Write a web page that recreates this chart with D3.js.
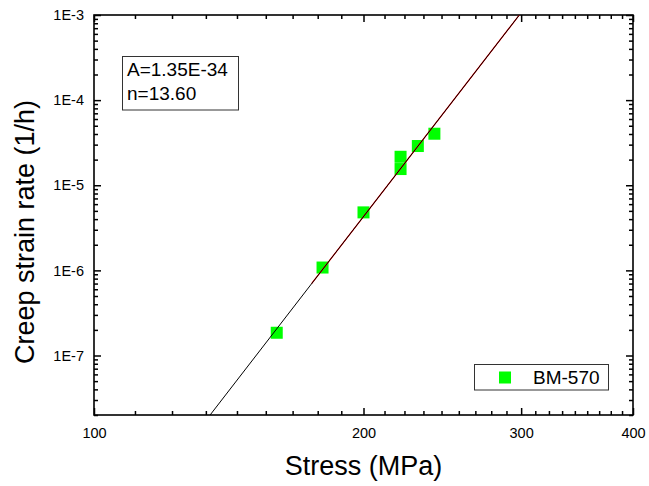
<!DOCTYPE html>
<html>
<head>
<meta charset="utf-8">
<script src="https://cdn.jsdelivr.net/npm/d3@7"></script>
<style>
    body { margin: 0; background: #fff; }
    svg { display: block; font-family: "Liberation Sans", Arial, sans-serif; }
</style>
</head>
<body>
<script>
// creep data (stress in MPa, rate in 1/h)
var stress = [160, 180, 200, 220, 220, 230, 240];
var rate = [1.85e-7, 1.08e-6, 4.8e-6, 1.55e-5, 2.16e-5, 2.89e-5, 4.03e-5];

// fitted power-law line, end points
var fitStress = [134.8, 298.6];
var fitRate = [2e-8, 1e-3];
// the red fit drawn underneath, only visible over the upper part
var redStress = [175, 298.6];
var redRate = [6.97e-7, 1e-3];

var xTicks = [100, 200, 300, 400];
var xTickLabels = ["100", "200", "300", "400"];
var yTicks = [1e-3, 1e-4, 1e-5, 1e-6, 1e-7];
var yTickLabels = ["1E-3", "1E-4", "1E-5", "1E-6", "1E-7"];

var fitText = ["A=1.35E-34", "n=13.60"];
var seriesName = "BM-570";

var margin = { top: 15, right: 16, bottom: 71, left: 94 };
var width = 649 - margin.left - margin.right;
var height = 486 - margin.top - margin.bottom;

var svg = d3.select("body")
    .append("svg")
    .attr("width", 649)
    .attr("height", 486);

var g = svg.append("g")
    .attr("transform", `translate(${margin.left},${margin.top})`);

var x = d3.scaleLog().domain([100, 400]).range([0, width]);
var y = d3.scaleLog().domain([2e-8, 1e-3]).range([height, 0]);

// minor ticks: x has 8 evenly spaced between majors, y is 2..9 per decade
var xMinor = [];
for (var i = 0; i < xTicks.length - 1; i++) {
    for (var k = 1; k <= 8; k++) xMinor.push(xTicks[i] + (xTicks[i + 1] - xTicks[i]) * k / 9);
}
var yMinor = [];
for (var e = -8; e <= -4; e++) {
    for (var m = 2; m <= 9; m++) {
        var v = m * Math.pow(10, e);
        if (v >= 2e-8 && v <= 1e-3) yMinor.push(v);
    }
}

function styleAxis(sel) {
    sel.select(".domain").remove();
    sel.selectAll("line").attr("stroke", "#000").attr("stroke-width", 1.5);
    sel.selectAll("text").attr("fill", "#000").style("font-size", "14.5px");
}

// bottom + top
g.append("g").attr("transform", `translate(0,${height})`)
    .call(d3.axisBottom(x).tickValues(xMinor).tickSize(-4).tickFormat(""))
    .call(styleAxis);
g.append("g").attr("transform", `translate(0,${height})`)
    .call(d3.axisBottom(x).tickValues(xTicks).tickSize(-7).tickPadding(13)
        .tickFormat((d, i) => xTickLabels[i]))
    .call(styleAxis);
g.append("g")
    .call(d3.axisTop(x).tickValues(xMinor).tickSize(-4).tickFormat(""))
    .call(styleAxis);
g.append("g")
    .call(d3.axisTop(x).tickValues(xTicks).tickSize(-7).tickFormat(""))
    .call(styleAxis);

// left + right
g.append("g")
    .call(d3.axisLeft(y).tickValues(yMinor).tickSize(-4).tickFormat(""))
    .call(styleAxis);
g.append("g")
    .call(d3.axisLeft(y).tickValues(yTicks).tickSize(-7).tickPadding(10)
        .tickFormat((d, i) => yTickLabels[i]))
    .call(styleAxis);
g.append("g").attr("transform", `translate(${width},0)`)
    .call(d3.axisRight(y).tickValues(yMinor).tickSize(-4).tickFormat(""))
    .call(styleAxis);
g.append("g").attr("transform", `translate(${width},0)`)
    .call(d3.axisRight(y).tickValues(yTicks).tickSize(-7).tickFormat(""))
    .call(styleAxis);

// frame
g.append("rect")
    .attr("width", width)
    .attr("height", height)
    .attr("fill", "none")
    .attr("stroke", "#000")
    .attr("stroke-width", 1.6);

g.append("clipPath").attr("id", "clip")
    .append("rect").attr("width", width).attr("height", height);

var plot = g.append("g").attr("clip-path", "url(#clip)");

// data squares
plot.selectAll("rect.pt")
    .data(stress)
    .enter().append("rect")
    .attr("class", "pt")
    .attr("x", (d, i) => x(d) - 6)
    .attr("y", (d, i) => y(rate[i]) - 6)
    .attr("width", 12)
    .attr("height", 12)
    .attr("fill", "#00ff00");

// fit lines, drawn over the points
var line = d3.line().x(d => x(d[0])).y(d => y(d[1]));
plot.append("path")
    .attr("d", line(d3.zip(redStress, redRate)))
    .attr("fill", "none")
    .attr("stroke", "#ff0000")
    .attr("stroke-width", 1.2);
plot.append("path")
    .attr("d", line(d3.zip(fitStress, fitRate)))
    .attr("fill", "none")
    .attr("stroke", "#000")
    .attr("stroke-width", 1);

// parameter box
svg.append("rect")
    .attr("x", 122.5).attr("y", 56.5)
    .attr("width", 116).attr("height", 53.5)
    .attr("fill", "#fff")
    .attr("stroke", "#333")
    .attr("stroke-width", 1);
svg.selectAll("text.fit")
    .data(fitText)
    .enter().append("text")
    .attr("class", "fit")
    .attr("x", 127)
    .attr("y", (d, i) => 76 + i * 24.3)
    .attr("font-size", "19px")
    .text(d => d);

// legend
svg.append("rect")
    .attr("x", 474.5).attr("y", 364.5)
    .attr("width", 134).attr("height", 25.5)
    .attr("fill", "#fff")
    .attr("stroke", "#333")
    .attr("stroke-width", 1);
svg.append("rect")
    .attr("x", 499).attr("y", 371.5)
    .attr("width", 12).attr("height", 12)
    .attr("fill", "#00ff00");
svg.append("text")
    .attr("x", 533)
    .attr("y", 384)
    .attr("font-size", "19px")
    .text(seriesName);

// axis titles
svg.append("text")
    .attr("x", margin.left + x(200))
    .attr("y", 475)
    .attr("text-anchor", "middle")
    .attr("font-size", "27px")
    .text("Stress (MPa)");
svg.append("text")
    .attr("transform", "rotate(-90)")
    .attr("x", -232)
    .attr("y", 33.5)
    .attr("text-anchor", "middle")
    .attr("font-size", "27px")
    .text("Creep strain rate (1/h)");
</script>
</body>
</html>
